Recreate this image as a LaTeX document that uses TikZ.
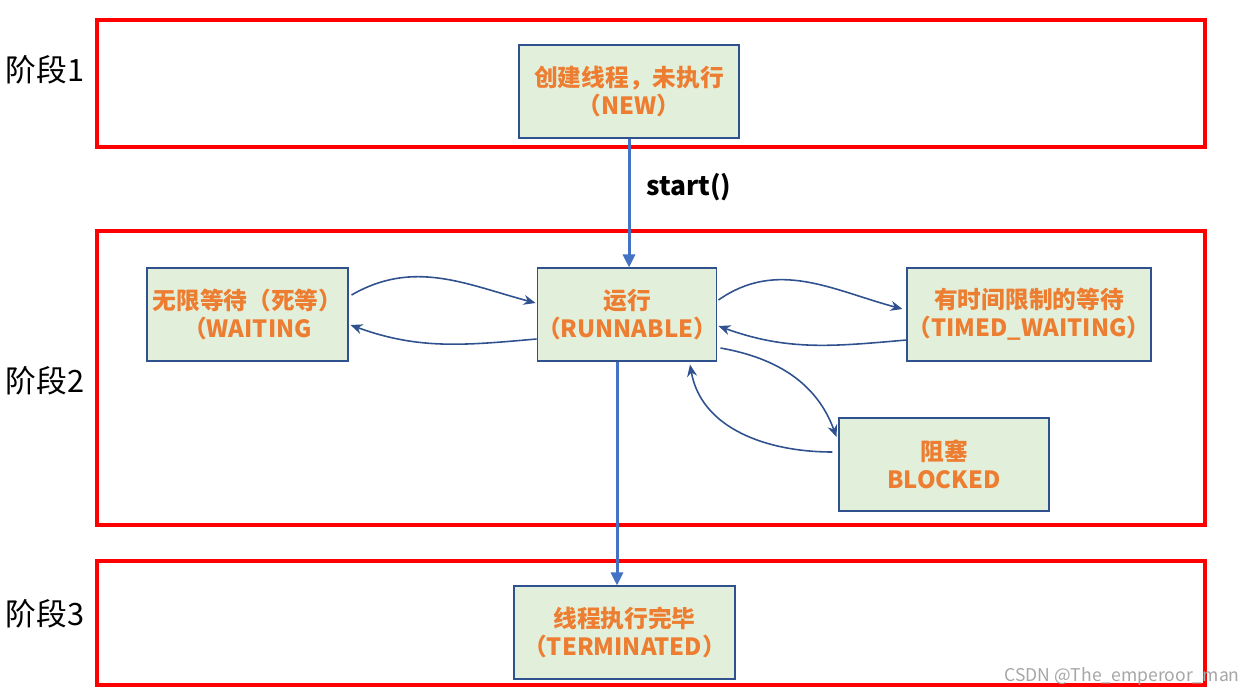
\documentclass[tikz,border=0pt]{standalone}
\usepackage{fontspec}
\setmainfont{Noto Sans CJK SC}
\usepackage{xcolor}
\usepackage{tikz}
\usetikzlibrary{arrows.meta}
\usetikzlibrary{calc}

\definecolor{stagered}{HTML}{FF0000}
\definecolor{boxfill}{HTML}{E2EFDA}
\definecolor{boxline}{HTML}{2F528F}
\definecolor{stateorange}{HTML}{ED7D31}
\definecolor{flowblue}{HTML}{4472C4}

\tikzset{
  stagebox/.style={draw=stagered, line width=2.8pt},
  stagelabel/.style={font=\fontsize{17.5pt}{20pt}\selectfont},
  state/.style={draw=boxline, fill=boxfill, line width=0.6pt, align=center,
    text=stateorange, font=\fontsize{13.5pt}{16pt}\selectfont\bfseries,
    inner sep=0pt, minimum height=93*0.02cm},
  bigarrow/.style={draw=flowblue, line width=1.7pt, -{Triangle[length=2.6mm,width=2.4mm]}},
  smallarrow/.style={draw=boxline, line width=0.9pt, -{Stealth[length=2.4mm,width=2mm]}}
}

\begin{document}
\begin{tikzpicture}[x=0.02cm, y=-0.02cm]
                \useasboundingbox (0,0) rectangle (1250,697);
                % Stages
                \draw[stagebox] (97,20) rectangle (1205,147);
                \draw[stagebox] (97,231) rectangle (1205,525);
                \draw[stagebox] (97,561) rectangle (1205,685);
                \node[stagelabel] (s1) at (45,70) {阶段1};
                \node[stagelabel] (s2) at (45,381) {阶段2};
                \node[stagelabel] (s3) at (45,614) {阶段3};
                % States
                \node[state, minimum width=220*0.02cm] (new) at (629,91.5) {创建线程，未执行\\（NEW）};
                \node[state, minimum width=178*0.02cm] (run) at (627,314.5) {运行\\（RUNNABLE）};
                \node[state, minimum width=201*0.02cm] (wait) at (247.5,314.5) {无限等待（死等）\\（WAITING};
                \node[state, minimum width=244*0.02cm] (timed) at (1029,314.5) {有时间限制的等待\\（TIMED\_WAITING）};
                \node[state, minimum width=210*0.02cm] (block) at (944,464.5) {阻塞\\BLOCKED};
                \node[state, minimum width=221*0.02cm] (term) at (624.5,632.5) {线程执行完毕\\（TERMINATED）};
                % Transitions
                \draw[bigarrow] (new.south) -- (new.south |- run.north);
                \node[font=\fontsize{15pt}{18pt}\selectfont\bfseries] (start) at (689,187) {start()};
                \draw[bigarrow] ($(run.south)+(-10,0)$) -- ($(run.south |- term.north)+(-10,0)$);
                \draw[smallarrow] ($(wait.east)+(3,-19.5)$) to[out=30,in=165] ($(run.west)+(-1,-11.5)$);
                \draw[smallarrow] ($(run.west)+(0,24.5)$) to[out=185,in=-20] ($(wait.east)+(2,10.5)$);
                \draw[smallarrow] ($(run.east)+(1,-14.5)$) to[out=35,in=165] ($(timed.west)+(-4,-5.5)$);
                \draw[smallarrow] ($(timed.west)+(0,25.5)$) to[out=185,in=-20] ($(run.east)+(1,11.5)$);
                \draw[smallarrow] ($(run.east)+(3,33.5)$) to[out=-10,in=110] ($(block.west)+(-2,-27.5)$);
                \draw[smallarrow] ($(block.west)+(-6,-12.5)$) to[out=180,in=-80] ($(run.south)+(63,3)$);
                % Watermark
                \node[text=gray!70, font=\fontsize{10pt}{12pt}\selectfont, anchor=east, inner sep=0pt] (mark) at (1240,677) {CSDN @The\_emperoor\_man};
            \end{tikzpicture}
\end{document}
